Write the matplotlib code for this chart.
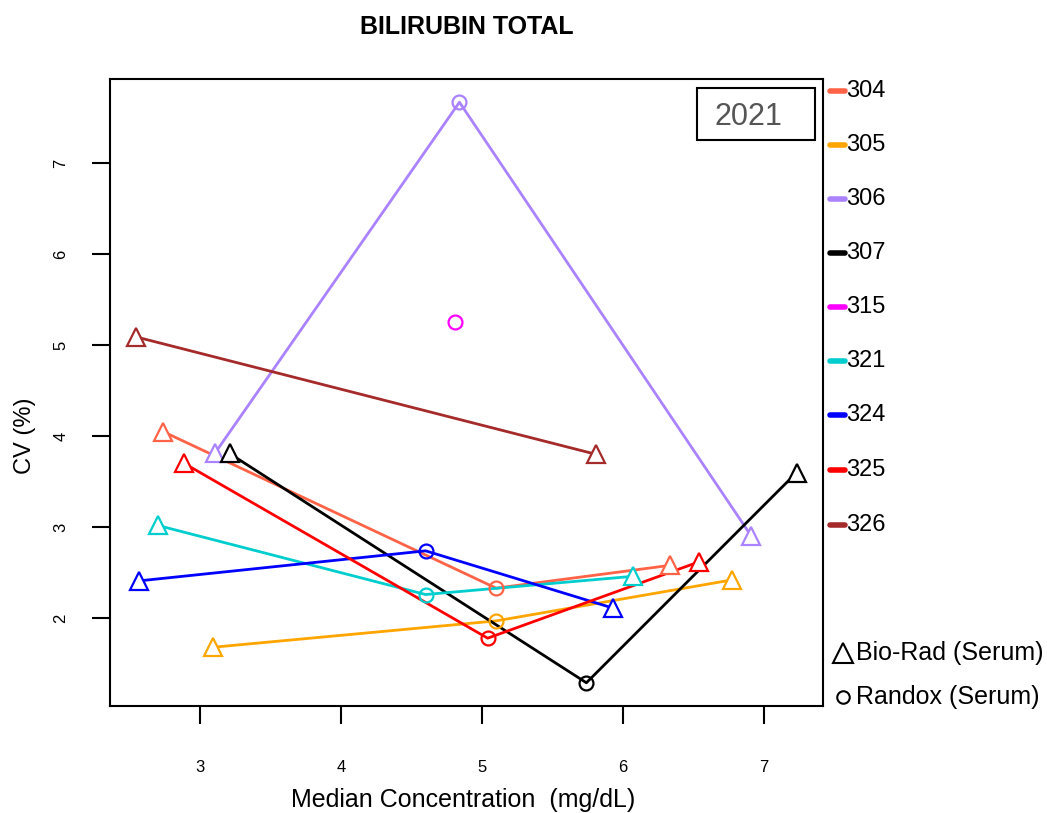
import matplotlib
matplotlib.use("Agg")
import matplotlib.pyplot as plt
from matplotlib.lines import Line2D
from matplotlib.patches import Rectangle

plt.rcParams["font.family"] = ["Liberation Sans", "DejaVu Sans"]

# Laboratorios y colores
labs = ["304", "305", "306", "307", "315", "321", "324", "325", "326"]
colors = ["#FF6347", "#FFA500", "#AB82FF", "#000000", "#FF00FF",
          "#00CDCD", "#0000FF", "#FF0000", "#A52A2A"]

# Concentracion mediana (mg/dL), CV (%) y material (B = Bio-Rad, R = Randox)
conc = [
    [2.74, 5.10, 6.33],
    [3.09, 5.10, 6.77],
    [3.11, 4.84, 6.91],
    [3.21, 5.74, 7.23],
    [4.81],
    [2.70, 4.60, 6.07],
    [2.57, 4.60, 5.93],
    [2.89, 5.04, 6.54],
    [2.55, 5.81],
]
cv = [
    [4.05, 2.33, 2.58],
    [1.68, 1.97, 2.42],
    [3.82, 7.67, 2.90],
    [3.81, 1.29, 3.60],
    [5.25],
    [3.02, 2.26, 2.46],
    [2.41, 2.74, 2.11],
    [3.70, 1.78, 2.62],
    [5.09, 3.80],
]
material = [
    ["B", "R", "B"],
    ["B", "R", "B"],
    ["B", "R", "B"],
    ["B", "R", "B"],
    ["R"],
    ["B", "R", "B"],
    ["B", "R", "B"],
    ["B", "R", "B"],
    ["B", "B"],
]

x_ticks = [3, 4, 5, 6, 7]
y_ticks = [2, 3, 4, 5, 6, 7]

W, H = 1047, 813
fig = plt.figure(figsize=(W / 100, H / 100), dpi=100)
ax = fig.add_axes([110 / W, 1 - 706 / H, (823 - 110) / W, (706 - 79) / H])

for xs, ys, ms, c in zip(conc, cv, material, colors):
    if len(xs) > 1:
        ax.plot(xs, ys, color=c, lw=2.0, zorder=2)
    for x, y, m in zip(xs, ys, ms):
        if m == "B":
            ax.plot(x, y, marker="^", ms=13, mfc="white", mec=c, mew=1.6,
                    ls="none", zorder=3)
        else:
            ax.plot(x, y, marker="o", ms=10, mfc="none", mec=c, mew=1.6,
                    ls="none", zorder=3)

# Limites estilo R (4% de margen)
allx = [v for s in conc for v in s]
ally = [v for s in cv for v in s]
dx = (max(allx) - min(allx)) * 0.04
dy = (max(ally) - min(ally)) * 0.04
ax.set_xlim(min(allx) - dx, max(allx) + dx)
ax.set_ylim(min(ally) - dy, max(ally) + dy)

ax.set_xticks(x_ticks)
ax.set_yticks(y_ticks)
ax.tick_params(axis="both", direction="out", length=13, width=1.5, labelsize=12)
ax.tick_params(axis="x", pad=26)
ax.tick_params(axis="y", pad=17)
for lbl in ax.get_yticklabels():
    lbl.set_rotation(90)
    lbl.set_va("center")
for sp in ax.spines.values():
    sp.set_linewidth(1.5)

# Cuadro del anio
ax.add_patch(Rectangle((0.823, 0.9027), 0.166, 0.083, transform=ax.transAxes,
                       fc="white", ec="black", lw=1.5, zorder=4))
ax.text(0.896, 0.940, "2021", transform=ax.transAxes, ha="center", va="center",
        fontsize=22, color="#555555", zorder=5)

# Titulo y etiquetas
fig.text(467 / W, 1 - 27 / H, "BILIRUBIN TOTAL", ha="center", va="center",
         fontsize=18, fontweight="bold")
fig.text(463 / W, 1 - 800 / H, "Median Concentration  (mg/dL)", ha="center",
         va="center", fontsize=18)
fig.text(25 / W, 1 - 436 / H, "CV (%)", ha="center", va="center",
         fontsize=17, rotation=90)

# Leyenda fuera del grafico
leg_y = [91, 145, 199, 253, 307, 361, 415, 470, 525]
for lab, c, yy in zip(labs, colors, leg_y):
    yf = 1 - yy / H
    fig.add_artist(Line2D([830 / W, 845 / W], [yf, yf], color=c, lw=4,
                          solid_capstyle="round", transform=fig.transFigure))
    fig.text(846 / W, yf, lab, ha="left", va="center", fontsize=17)

fig.add_artist(Line2D([843 / W], [1 - 653 / H], marker="^", ms=14, mfc="white",
                      mec="black", mew=1.5, transform=fig.transFigure))
fig.text(856 / W, 1 - 653 / H, "Bio-Rad (Serum)", ha="left", va="center",
         fontsize=18)
fig.add_artist(Line2D([843 / W], [1 - 697 / H], marker="o", ms=9, mfc="white",
                      mec="black", mew=1.5, transform=fig.transFigure))
fig.text(856 / W, 1 - 697 / H, "Randox (Serum)", ha="left", va="center",
         fontsize=18)

fig.savefig("out.png", dpi=100)
